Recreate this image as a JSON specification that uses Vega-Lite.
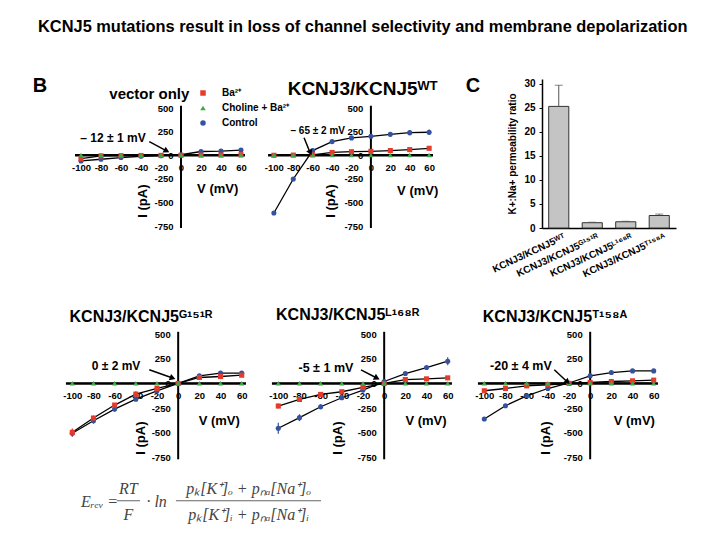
{
"$schema":"https://vega.github.io/schema/vega-lite/v6.json",
"background":"white",
"padding":{"left":32,"top":18,"right":5,"bottom":5},
"title":{"text":"KCNJ5 mutations result in loss of channel selectivity and membrane depolarization","font":"Liberation Sans","fontSize":16.4,"fontWeight":"bold","color":"black","anchor":"start","frame":"group","dx":-29,"offset":41},
"config":{"view":{"stroke":null},"axis":{"domain":false,"ticks":false,"grid":false,"labelFont":"Liberation Sans","labelFontWeight":"bold","labelFontSize":9.5,"labelColor":"black","labelPadding":7,"labelOverlap":false,"labelFlush":false}},
"resolve":{"scale":{"color":"independent","shape":"independent"}},
"columns":3,
"align":"none",
"bounds":"flush",
"spacing":{"row":103.3,"column":26},
"datasets":{
"iv":[
{"p":"vec","s":"Control","V":-100,"I":-60,"e":0},{"p":"vec","s":"Control","V":-80,"I":-42,"e":0},{"p":"vec","s":"Control","V":-60,"I":-24,"e":0},{"p":"vec","s":"Control","V":-40,"I":-10,"e":0},{"p":"vec","s":"Control","V":-20,"I":-4,"e":0},{"p":"vec","s":"Control","V":0,"I":6,"e":0},{"p":"vec","s":"Control","V":20,"I":40,"e":0},{"p":"vec","s":"Control","V":40,"I":44,"e":0},{"p":"vec","s":"Control","V":60,"I":55,"e":0},
{"p":"vec","s":"Ba²⁺","V":-100,"I":-35,"e":0},{"p":"vec","s":"Ba²⁺","V":-80,"I":-6,"e":0},{"p":"vec","s":"Ba²⁺","V":-60,"I":-4,"e":0},{"p":"vec","s":"Ba²⁺","V":-40,"I":-2,"e":0},{"p":"vec","s":"Ba²⁺","V":-20,"I":-1,"e":0},{"p":"vec","s":"Ba²⁺","V":0,"I":0,"e":0},{"p":"vec","s":"Ba²⁺","V":20,"I":2,"e":0},{"p":"vec","s":"Ba²⁺","V":40,"I":4,"e":0},{"p":"vec","s":"Ba²⁺","V":60,"I":6,"e":0},
{"p":"vec","s":"Choline + Ba²⁺","V":-100,"I":4,"e":0},{"p":"vec","s":"Choline + Ba²⁺","V":-80,"I":4,"e":0},{"p":"vec","s":"Choline + Ba²⁺","V":-60,"I":3,"e":0},{"p":"vec","s":"Choline + Ba²⁺","V":-40,"I":3,"e":0},{"p":"vec","s":"Choline + Ba²⁺","V":-20,"I":2,"e":0},{"p":"vec","s":"Choline + Ba²⁺","V":0,"I":2,"e":0},{"p":"vec","s":"Choline + Ba²⁺","V":20,"I":2,"e":0},{"p":"vec","s":"Choline + Ba²⁺","V":40,"I":1,"e":0},{"p":"vec","s":"Choline + Ba²⁺","V":60,"I":1,"e":0},
{"p":"wt","s":"Control","V":-100,"I":-611,"e":0},{"p":"wt","s":"Control","V":-80,"I":-251,"e":0},{"p":"wt","s":"Control","V":-60,"I":50,"e":0},{"p":"wt","s":"Control","V":-40,"I":145,"e":12},{"p":"wt","s":"Control","V":-20,"I":184,"e":15},{"p":"wt","s":"Control","V":0,"I":201,"e":15},{"p":"wt","s":"Control","V":20,"I":222,"e":22},{"p":"wt","s":"Control","V":40,"I":240,"e":28},{"p":"wt","s":"Control","V":60,"I":244,"e":30},
{"p":"wt","s":"Ba²⁺","V":-100,"I":0,"e":0},{"p":"wt","s":"Ba²⁺","V":-80,"I":2,"e":0},{"p":"wt","s":"Ba²⁺","V":-60,"I":5,"e":0},{"p":"wt","s":"Ba²⁺","V":-40,"I":30,"e":8},{"p":"wt","s":"Ba²⁺","V":-20,"I":38,"e":8},{"p":"wt","s":"Ba²⁺","V":0,"I":42,"e":8},{"p":"wt","s":"Ba²⁺","V":20,"I":50,"e":8},{"p":"wt","s":"Ba²⁺","V":40,"I":60,"e":10},{"p":"wt","s":"Ba²⁺","V":60,"I":74,"e":12},
{"p":"wt","s":"Choline + Ba²⁺","V":-100,"I":3,"e":0},{"p":"wt","s":"Choline + Ba²⁺","V":-80,"I":3,"e":0},{"p":"wt","s":"Choline + Ba²⁺","V":-60,"I":3,"e":0},{"p":"wt","s":"Choline + Ba²⁺","V":-40,"I":3,"e":0},{"p":"wt","s":"Choline + Ba²⁺","V":-20,"I":3,"e":0},{"p":"wt","s":"Choline + Ba²⁺","V":0,"I":3,"e":0},{"p":"wt","s":"Choline + Ba²⁺","V":20,"I":3,"e":0},{"p":"wt","s":"Choline + Ba²⁺","V":40,"I":3,"e":0},{"p":"wt","s":"Choline + Ba²⁺","V":60,"I":3,"e":0},
{"p":"g151r","s":"Control","V":-100,"I":-506,"e":35},{"p":"g151r","s":"Control","V":-80,"I":-378,"e":30},{"p":"g151r","s":"Control","V":-60,"I":-260,"e":25},{"p":"g151r","s":"Control","V":-40,"I":-159,"e":20},{"p":"g151r","s":"Control","V":-20,"I":-74,"e":10},{"p":"g151r","s":"Control","V":0,"I":0,"e":0},{"p":"g151r","s":"Control","V":20,"I":78,"e":8},{"p":"g151r","s":"Control","V":40,"I":105,"e":10},{"p":"g151r","s":"Control","V":60,"I":105,"e":10},
{"p":"g151r","s":"Ba²⁺","V":-100,"I":-496,"e":40},{"p":"g151r","s":"Ba²⁺","V":-80,"I":-351,"e":25},{"p":"g151r","s":"Ba²⁺","V":-60,"I":-219,"e":20},{"p":"g151r","s":"Ba²⁺","V":-40,"I":-108,"e":30},{"p":"g151r","s":"Ba²⁺","V":-20,"I":-50,"e":10},{"p":"g151r","s":"Ba²⁺","V":0,"I":0,"e":0},{"p":"g151r","s":"Ba²⁺","V":20,"I":61,"e":8},{"p":"g151r","s":"Ba²⁺","V":40,"I":71,"e":10},{"p":"g151r","s":"Ba²⁺","V":60,"I":84,"e":12},
{"p":"g151r","s":"Choline + Ba²⁺","V":-100,"I":2,"e":0},{"p":"g151r","s":"Choline + Ba²⁺","V":-80,"I":2,"e":0},{"p":"g151r","s":"Choline + Ba²⁺","V":-60,"I":2,"e":0},{"p":"g151r","s":"Choline + Ba²⁺","V":-40,"I":2,"e":0},{"p":"g151r","s":"Choline + Ba²⁺","V":-20,"I":2,"e":0},{"p":"g151r","s":"Choline + Ba²⁺","V":0,"I":2,"e":0},{"p":"g151r","s":"Choline + Ba²⁺","V":20,"I":2,"e":0},{"p":"g151r","s":"Choline + Ba²⁺","V":40,"I":2,"e":0},{"p":"g151r","s":"Choline + Ba²⁺","V":60,"I":2,"e":0},
{"p":"l168r","s":"Control","V":-100,"I":-455,"e":55},{"p":"l168r","s":"Control","V":-80,"I":-347,"e":35},{"p":"l168r","s":"Control","V":-60,"I":-236,"e":25},{"p":"l168r","s":"Control","V":-40,"I":-145,"e":15},{"p":"l168r","s":"Control","V":-20,"I":-67,"e":10},{"p":"l168r","s":"Control","V":0,"I":20,"e":5},{"p":"l168r","s":"Control","V":20,"I":101,"e":12},{"p":"l168r","s":"Control","V":40,"I":162,"e":15},{"p":"l168r","s":"Control","V":60,"I":226,"e":40},
{"p":"l168r","s":"Ba²⁺","V":-100,"I":-229,"e":25},{"p":"l168r","s":"Ba²⁺","V":-80,"I":-162,"e":18},{"p":"l168r","s":"Ba²⁺","V":-60,"I":-111,"e":12},{"p":"l168r","s":"Ba²⁺","V":-40,"I":-84,"e":10},{"p":"l168r","s":"Ba²⁺","V":-20,"I":-40,"e":8},{"p":"l168r","s":"Ba²⁺","V":0,"I":0,"e":0},{"p":"l168r","s":"Ba²⁺","V":20,"I":40,"e":8},{"p":"l168r","s":"Ba²⁺","V":40,"I":47,"e":8},{"p":"l168r","s":"Ba²⁺","V":60,"I":57,"e":10},
{"p":"l168r","s":"Choline + Ba²⁺","V":-100,"I":2,"e":0},{"p":"l168r","s":"Choline + Ba²⁺","V":-80,"I":2,"e":0},{"p":"l168r","s":"Choline + Ba²⁺","V":-60,"I":2,"e":0},{"p":"l168r","s":"Choline + Ba²⁺","V":-40,"I":2,"e":0},{"p":"l168r","s":"Choline + Ba²⁺","V":-20,"I":2,"e":0},{"p":"l168r","s":"Choline + Ba²⁺","V":0,"I":2,"e":0},{"p":"l168r","s":"Choline + Ba²⁺","V":20,"I":2,"e":0},{"p":"l168r","s":"Choline + Ba²⁺","V":40,"I":2,"e":0},{"p":"l168r","s":"Choline + Ba²⁺","V":60,"I":2,"e":0},
{"p":"t158a","s":"Control","V":-100,"I":-361,"e":0},{"p":"t158a","s":"Control","V":-80,"I":-226,"e":0},{"p":"t158a","s":"Control","V":-60,"I":-125,"e":0},{"p":"t158a","s":"Control","V":-40,"I":-51,"e":0},{"p":"t158a","s":"Control","V":-20,"I":5,"e":0},{"p":"t158a","s":"Control","V":0,"I":78,"e":0},{"p":"t158a","s":"Control","V":20,"I":111,"e":0},{"p":"t158a","s":"Control","V":40,"I":128,"e":0},{"p":"t158a","s":"Control","V":60,"I":128,"e":0},
{"p":"t158a","s":"Ba²⁺","V":-100,"I":-74,"e":0},{"p":"t158a","s":"Ba²⁺","V":-80,"I":-51,"e":0},{"p":"t158a","s":"Ba²⁺","V":-60,"I":-24,"e":0},{"p":"t158a","s":"Ba²⁺","V":-40,"I":-13,"e":0},{"p":"t158a","s":"Ba²⁺","V":-20,"I":0,"e":0},{"p":"t158a","s":"Ba²⁺","V":0,"I":10,"e":0},{"p":"t158a","s":"Ba²⁺","V":20,"I":20,"e":0},{"p":"t158a","s":"Ba²⁺","V":40,"I":27,"e":0},{"p":"t158a","s":"Ba²⁺","V":60,"I":34,"e":0},
{"p":"t158a","s":"Choline + Ba²⁺","V":-100,"I":3,"e":0},{"p":"t158a","s":"Choline + Ba²⁺","V":-80,"I":3,"e":0},{"p":"t158a","s":"Choline + Ba²⁺","V":-60,"I":3,"e":0},{"p":"t158a","s":"Choline + Ba²⁺","V":-40,"I":3,"e":0},{"p":"t158a","s":"Choline + Ba²⁺","V":-20,"I":3,"e":0},{"p":"t158a","s":"Choline + Ba²⁺","V":0,"I":3,"e":0},{"p":"t158a","s":"Choline + Ba²⁺","V":20,"I":3,"e":0},{"p":"t158a","s":"Choline + Ba²⁺","V":40,"I":3,"e":0},{"p":"t158a","s":"Choline + Ba²⁺","V":60,"I":3,"e":0}
],
"perm":[
{"c":"KCNJ3/KCNJ5ᵂᵀ","r":25.3,"hi":29.7},
{"c":"KCNJ3/KCNJ5ᴳ¹⁵¹ᴿ","r":1.1,"hi":1.2},
{"c":"KCNJ3/KCNJ5ᴸ¹⁶⁸ᴿ","r":1.3,"hi":1.4},
{"c":"KCNJ3/KCNJ5ᵀ¹⁵⁸ᴬ","r":2.6,"hi":2.9}
]
},
"concat":[
{"width":180,"height":149,
"layer":[
{"data":{"values":[{}]},"mark":{"type":"rule","color":"black","strokeWidth":2.5},"encoding":{"x":{"datum":-106},"x2":{"datum":64},"y":{"datum":0}}},
{"data":{"values":[{}]},"mark":{"type":"rule","color":"black","strokeWidth":2},"encoding":{"x":{"datum":0},"y":{"datum":-770},"y2":{"datum":525}}},
{"data":{"name":"iv"},"transform":[{"filter":"datum.p==='vec'"}],
"encoding":{"x":{"field":"V","type":"quantitative","scale":{"domain":[-114,66],"nice":false,"zero":false},"axis":{"title":null,"values":[-100,-80,-60,-40,-20,0,20,40,60],"tickCount":30,"offset":-72.7,"labelOverlap":false,"labelExpr":"'' + datum.value"}},
"y":{"field":"I","type":"quantitative","scale":{"domain":[-770,808],"nice":false,"zero":false},"axis":{"title":null,"values":[-750,-500,-250,0,250,500],"tickCount":30,"offset":-114,"labelPadding":8,"labelOverlap":false,"labelExpr":"'' + datum.value"}}},
"layer":[
{"mark":{"type":"line","color":"black","strokeWidth":1.3},"encoding":{"detail":{"field":"s"}}},
{"mark":{"type":"point","filled":true,"size":26,"opacity":1},"encoding":{
"color":{"field":"s","type":"nominal","scale":{"domain":["Ba²⁺","Choline + Ba²⁺","Control"],"range":["#e53b2c","#3daa48","#35529e"]},"legend":{"orient":"none","legendX":131,"legendY":9,"title":null,"labelFont":"Liberation Sans","labelFontWeight":"bold","labelFontSize":10,"labelColor":"black","labelOffset":14,"symbolSize":30,"rowPadding":5}},
"shape":{"field":"s","type":"nominal","scale":{"domain":["Ba²⁺","Choline + Ba²⁺","Control"],"range":["square","triangle-up","circle"]},"legend":{"orient":"none","legendX":131,"legendY":9,"title":null,"labelFont":"Liberation Sans","labelFontWeight":"bold","labelFontSize":10,"labelColor":"black","labelOffset":14,"symbolSize":30,"rowPadding":5}}}}
]},
{"data":{"values":[{}]},"mark":{"type":"text","font":"Liberation Sans","fontWeight":"bold","fontSize":15,"color":"black"},"encoding":{"x":{"datum":-31.7},"y":{"datum":652},"text":{"value":"vector only"}}},
{"data":{"values":[{}]},"mark":{"type":"text","font":"Liberation Sans","fontWeight":"bold","fontSize":20,"color":"black"},"encoding":{"x":{"datum":-141},"y":{"datum":734},"text":{"value":"B"}}},
{"data":{"values":[{}]},"mark":{"type":"text","font":"Liberation Sans","fontWeight":"bold","fontSize":12,"color":"black"},"encoding":{"x":{"datum":-68},"y":{"datum":186},"text":{"value":"– 12 ± 1 mV"}}},
{"data":{"values":[{}]},"mark":{"type":"rule","color":"black","strokeWidth":1.5},"encoding":{"x":{"datum":-31.7},"y":{"datum":144},"x2":{"datum":-15},"y2":{"datum":50}}},
{"data":{"values":[{}]},"mark":{"type":"point","shape":"triangle-right","angle":28,"filled":true,"color":"black","size":45,"opacity":1},"encoding":{"x":{"datum":-14.3},"y":{"datum":46}}},
{"data":{"values":[{}]},"mark":{"type":"text","font":"Liberation Sans","fontWeight":"bold","fontSize":13,"color":"black"},"encoding":{"x":{"datum":36.7},"y":{"datum":-360},"text":{"value":"V (mV)"}}},
{"data":{"values":[{}]},"mark":{"type":"text","font":"Liberation Sans","fontWeight":"bold","fontSize":13,"color":"black","angle":270},"encoding":{"x":{"datum":-38.3},"y":{"datum":-485},"text":{"value":"I (pA)"}}}
]},
{"width":180,"height":149,
"layer":[
{"data":{"values":[{}]},"mark":{"type":"rule","color":"black","strokeWidth":2.5},"encoding":{"x":{"datum":-106},"x2":{"datum":64},"y":{"datum":0}}},
{"data":{"values":[{}]},"mark":{"type":"rule","color":"black","strokeWidth":2},"encoding":{"x":{"datum":0},"y":{"datum":-770},"y2":{"datum":525}}},
{"data":{"name":"iv"},"transform":[{"filter":"datum.p==='wt'"}],
"encoding":{"x":{"field":"V","type":"quantitative","scale":{"domain":[-100.9,84.6],"nice":false,"zero":false},"axis":{"title":null,"values":[-100,-80,-60,-40,-20,0,20,40,60],"tickCount":30,"offset":-72.7,"labelOverlap":false,"labelExpr":"'' + datum.value"}},
"y":{"field":"I","type":"quantitative","scale":{"domain":[-770,808],"nice":false,"zero":false},"axis":{"title":null,"values":[-750,-500,-250,0,250,500],"tickCount":30,"offset":-97.9,"labelPadding":8,"labelOverlap":false,"labelExpr":"'' + datum.value"}}},
"layer":[
{"mark":{"type":"line","color":"black","strokeWidth":1.3},"encoding":{"detail":{"field":"s"}}},
{"transform":[{"filter":"datum.e>0"}],"mark":{"type":"errorbar","thickness":1.2},"encoding":{"yError":{"field":"e"},"color":{"field":"s","type":"nominal","scale":{"domain":["Ba²⁺","Choline + Ba²⁺","Control"],"range":["#e53b2c","#3daa48","#35529e"]},"legend":null}}},
{"mark":{"type":"point","filled":true,"size":26,"opacity":1},"encoding":{
"color":{"field":"s","type":"nominal","scale":{"domain":["Ba²⁺","Choline + Ba²⁺","Control"],"range":["#e53b2c","#3daa48","#35529e"]},"legend":null},
"shape":{"field":"s","type":"nominal","scale":{"domain":["Ba²⁺","Choline + Ba²⁺","Control"],"range":["square","triangle-up","circle"]},"legend":null}}}
]},
{"data":{"values":[{}]},"mark":{"type":"text","font":"Liberation Sans","fontWeight":"bold","fontSize":19,"color":"black"},"encoding":{"x":{"datum":-8.4},"y":{"datum":699},"text":{"value":"KCNJ3/KCNJ5ᵂᵀ"}}},
{"data":{"values":[{}]},"mark":{"type":"text","font":"Liberation Sans","fontWeight":"bold","fontSize":20,"color":"black"},"encoding":{"x":{"datum":105.2},"y":{"datum":734},"text":{"value":"C"}}},
{"data":{"values":[{}]},"mark":{"type":"text","font":"Liberation Sans","fontWeight":"bold","fontSize":10,"color":"black"},"encoding":{"x":{"datum":-54.8},"y":{"datum":257},"text":{"value":"– 65 ± 2 mV"}}},
{"data":{"values":[{}]},"mark":{"type":"rule","color":"black","strokeWidth":1.5},"encoding":{"x":{"datum":-68.9},"y":{"datum":186},"x2":{"datum":-62.9},"y2":{"datum":35}}},
{"data":{"values":[{}]},"mark":{"type":"point","shape":"triangle-right","angle":67,"filled":true,"color":"black","size":45,"opacity":1},"encoding":{"x":{"datum":-62.4},"y":{"datum":28}}},
{"data":{"values":[{}]},"mark":{"type":"text","font":"Liberation Sans","fontWeight":"bold","fontSize":13,"color":"black"},"encoding":{"x":{"datum":48.2},"y":{"datum":-378},"text":{"value":"V (mV)"}}},
{"data":{"values":[{}]},"mark":{"type":"text","font":"Liberation Sans","fontWeight":"bold","fontSize":13,"color":"black","angle":270},"encoding":{"x":{"datum":-41},"y":{"datum":-485},"text":{"value":"I (pA)"}}}
]},
{"width":197,"height":149,"data":{"name":"perm"},
"encoding":{"x":{"field":"c","type":"nominal","sort":null,"scale":{"range":[63,197],"paddingInner":0.4,"paddingOuter":0.2},"axis":{"title":null,"labelAngle":-25,"labelAlign":"right","labelBaseline":"middle","labelFontSize":10,"labelPadding":8,"labelOffset":6,"domain":true,"domainColor":"black","domainWidth":1.5}}},
"layer":[
{"mark":{"type":"bar","fill":"#c4c4c4","stroke":"#333333","strokeWidth":1},"encoding":{"y":{"field":"r","type":"quantitative","scale":{"domain":[0,31],"nice":false},"axis":{"title":"K+:Na+ permeability ratio","titleFont":"Liberation Sans","titleFontWeight":"bold","titleFontSize":10,"titleColor":"black","titlePadding":6,"values":[0,5,10,15,20,25,30],"tickCount":30,"labelFontSize":10,"labelPadding":4,"offset":-63,"labelOverlap":false,"domain":true,"domainColor":"black","domainWidth":1.5,"ticks":true,"tickColor":"black","tickSize":3}}}},
{"mark":{"type":"rule","color":"#555555","strokeWidth":1},"encoding":{"y":{"field":"r","type":"quantitative"},"y2":{"field":"hi"}}},
{"mark":{"type":"tick","color":"#555555","size":8,"thickness":1},"encoding":{"y":{"field":"hi","type":"quantitative"}}}
]},
{"width":180,"height":128,
"layer":[
{"data":{"values":[{}]},"mark":{"type":"rule","color":"black","strokeWidth":2.5},"encoding":{"x":{"datum":-106},"x2":{"datum":64},"y":{"datum":0}}},
{"data":{"values":[{}]},"mark":{"type":"rule","color":"black","strokeWidth":2},"encoding":{"x":{"datum":0},"y":{"datum":-770},"y2":{"datum":525}}},
{"data":{"name":"iv"},"transform":[{"filter":"datum.p==='g151r'"}],
"encoding":{"x":{"field":"V","type":"quantitative","scale":{"domain":[-105,65],"nice":false,"zero":false},"axis":{"title":null,"values":[-100,-80,-60,-40,-20,0,20,40,60],"tickCount":30,"offset":-75.8,"labelOverlap":false,"labelExpr":"'' + datum.value"}},
"y":{"field":"I","type":"quantitative","scale":{"domain":[-770,530],"nice":false,"zero":false},"axis":{"title":null,"values":[-750,-500,-250,0,250,500],"tickCount":30,"offset":-111.2,"labelPadding":8,"labelOverlap":false,"labelExpr":"'' + datum.value"}}},
"layer":[
{"mark":{"type":"line","color":"black","strokeWidth":1.3},"encoding":{"detail":{"field":"s"}}},
{"transform":[{"filter":"datum.e>0"}],"mark":{"type":"errorbar","thickness":1.2},"encoding":{"yError":{"field":"e"},"color":{"field":"s","type":"nominal","scale":{"domain":["Ba²⁺","Choline + Ba²⁺","Control"],"range":["#e53b2c","#3daa48","#35529e"]},"legend":null}}},
{"mark":{"type":"point","filled":true,"size":26,"opacity":1},"encoding":{
"color":{"field":"s","type":"nominal","scale":{"domain":["Ba²⁺","Choline + Ba²⁺","Control"],"range":["#e53b2c","#3daa48","#35529e"]},"legend":null},
"shape":{"field":"s","type":"nominal","scale":{"domain":["Ba²⁺","Choline + Ba²⁺","Control"],"range":["square","triangle-up","circle"]},"legend":null}}}
]},
{"data":{"values":[{}]},"mark":{"type":"text","font":"Liberation Sans","fontWeight":"bold","fontSize":16,"color":"black"},"encoding":{"x":{"datum":-35.1},"y":{"datum":680},"text":{"value":"KCNJ3/KCNJ5ᴳ¹⁵¹ᴿ"}}},
{"data":{"values":[{}]},"mark":{"type":"text","font":"Liberation Sans","fontWeight":"bold","fontSize":12,"color":"black"},"encoding":{"x":{"datum":-58.7},"y":{"datum":173},"text":{"value":"0 ± 2 mV"}}},
{"data":{"values":[{}]},"mark":{"type":"rule","color":"black","strokeWidth":1.5},"encoding":{"x":{"datum":-27.3},"y":{"datum":139},"x2":{"datum":-6},"y2":{"datum":58}}},
{"data":{"values":[{}]},"mark":{"type":"point","shape":"triangle-right","angle":19.5,"filled":true,"color":"black","size":45,"opacity":1},"encoding":{"x":{"datum":-5.2},"y":{"datum":55}}},
{"data":{"values":[{}]},"mark":{"type":"text","font":"Liberation Sans","fontWeight":"bold","fontSize":13,"color":"black"},"encoding":{"x":{"datum":38.8},"y":{"datum":-386},"text":{"value":"V (mV)"}}},
{"data":{"values":[{}]},"mark":{"type":"text","font":"Liberation Sans","fontWeight":"bold","fontSize":13,"color":"black","angle":270},"encoding":{"x":{"datum":-35.1},"y":{"datum":-555},"text":{"value":"I (pA)"}}},
{"data":{"values":[{}]},"mark":{"type":"text","font":"Liberation Serif","fontStyle":"italic","fontSize":16,"color":"#444444","align":"left"},"encoding":{"x":{"datum":-91.8},"y":{"datum":-1201},"text":{"value":"Eᵣₑᵥ ="}}},
{"data":{"values":[{}]},"mark":{"type":"text","font":"Liberation Serif","fontStyle":"italic","fontSize":16,"color":"#444444"},"encoding":{"x":{"datum":-47},"y":{"datum":-1069},"text":{"value":"RT"}}},
{"data":{"values":[{}]},"mark":{"type":"rule","color":"#666666","strokeWidth":1},"encoding":{"x":{"datum":-58},"x2":{"datum":-36},"y":{"datum":-1191}}},
{"data":{"values":[{}]},"mark":{"type":"text","font":"Liberation Serif","fontStyle":"italic","fontSize":16,"color":"#444444"},"encoding":{"x":{"datum":-47},"y":{"datum":-1334},"text":{"value":"F"}}},
{"data":{"values":[{}]},"mark":{"type":"text","font":"Liberation Serif","fontStyle":"italic","fontSize":16,"color":"#444444","align":"left"},"encoding":{"x":{"datum":-30},"y":{"datum":-1201},"text":{"value":"· ln"}}},
{"data":{"values":[{}]},"mark":{"type":"text","font":"Liberation Serif","fontStyle":"italic","fontSize":16,"color":"#444444"},"encoding":{"x":{"datum":66.5},"y":{"datum":-1069},"text":{"value":"pₖ[K⁺]ₒ + pₙₐ[Na⁺]ₒ"}}},
{"data":{"values":[{}]},"mark":{"type":"rule","color":"#666666","strokeWidth":1},"encoding":{"x":{"datum":-2.1},"x2":{"datum":134.9},"y":{"datum":-1191}}},
{"data":{"values":[{}]},"mark":{"type":"text","font":"Liberation Serif","fontStyle":"italic","fontSize":16,"color":"#444444"},"encoding":{"x":{"datum":66.5},"y":{"datum":-1334},"text":{"value":"pₖ[K⁺]ᵢ + pₙₐ[Na⁺]ᵢ"}}}
]},
{"width":180,"height":128,
"layer":[
{"data":{"values":[{}]},"mark":{"type":"rule","color":"black","strokeWidth":2.5},"encoding":{"x":{"datum":-106},"x2":{"datum":64},"y":{"datum":0}}},
{"data":{"values":[{}]},"mark":{"type":"rule","color":"black","strokeWidth":2},"encoding":{"x":{"datum":0},"y":{"datum":-770},"y2":{"datum":525}}},
{"data":{"name":"iv"},"transform":[{"filter":"datum.p==='l168r'"}],
"encoding":{"x":{"field":"V","type":"quantitative","scale":{"domain":[-105,65],"nice":false,"zero":false},"axis":{"title":null,"values":[-100,-80,-60,-40,-20,0,20,40,60],"tickCount":30,"offset":-75.8,"labelOverlap":false,"labelExpr":"'' + datum.value"}},
"y":{"field":"I","type":"quantitative","scale":{"domain":[-770,530],"nice":false,"zero":false},"axis":{"title":null,"values":[-750,-500,-250,0,250,500],"tickCount":30,"offset":-111.2,"labelPadding":8,"labelOverlap":false,"labelExpr":"'' + datum.value"}}},
"layer":[
{"mark":{"type":"line","color":"black","strokeWidth":1.3},"encoding":{"detail":{"field":"s"}}},
{"transform":[{"filter":"datum.e>0"}],"mark":{"type":"errorbar","thickness":1.2},"encoding":{"yError":{"field":"e"},"color":{"field":"s","type":"nominal","scale":{"domain":["Ba²⁺","Choline + Ba²⁺","Control"],"range":["#e53b2c","#3daa48","#35529e"]},"legend":null}}},
{"mark":{"type":"point","filled":true,"size":26,"opacity":1},"encoding":{
"color":{"field":"s","type":"nominal","scale":{"domain":["Ba²⁺","Choline + Ba²⁺","Control"],"range":["#e53b2c","#3daa48","#35529e"]},"legend":null},
"shape":{"field":"s","type":"nominal","scale":{"domain":["Ba²⁺","Choline + Ba²⁺","Control"],"range":["square","triangle-up","circle"]},"legend":null}}}
]},
{"data":{"values":[{}]},"mark":{"type":"text","font":"Liberation Sans","fontWeight":"bold","fontSize":16,"color":"black"},"encoding":{"x":{"datum":-34.5},"y":{"datum":691},"text":{"value":"KCNJ3/KCNJ5ᴸ¹⁶⁸ᴿ"}}},
{"data":{"values":[{}]},"mark":{"type":"text","font":"Liberation Sans","fontWeight":"bold","fontSize":12.5,"color":"black"},"encoding":{"x":{"datum":-55},"y":{"datum":162},"text":{"value":"-5 ± 1 mV"}}},
{"data":{"values":[{}]},"mark":{"type":"rule","color":"black","strokeWidth":1.5},"encoding":{"x":{"datum":-21.9},"y":{"datum":139},"x2":{"datum":-7.5},"y2":{"datum":58}}},
{"data":{"values":[{}]},"mark":{"type":"point","shape":"triangle-right","angle":27,"filled":true,"color":"black","size":45,"opacity":1},"encoding":{"x":{"datum":-6.8},"y":{"datum":55}}},
{"data":{"values":[{}]},"mark":{"type":"text","font":"Liberation Sans","fontWeight":"bold","fontSize":13,"color":"black"},"encoding":{"x":{"datum":39.5},"y":{"datum":-386},"text":{"value":"V (mV)"}}},
{"data":{"values":[{}]},"mark":{"type":"text","font":"Liberation Sans","fontWeight":"bold","fontSize":13,"color":"black","angle":270},"encoding":{"x":{"datum":-43.3},"y":{"datum":-555},"text":{"value":"I (pA)"}}}
]},
{"width":180,"height":128,
"layer":[
{"data":{"values":[{}]},"mark":{"type":"rule","color":"black","strokeWidth":2.5},"encoding":{"x":{"datum":-106},"x2":{"datum":64},"y":{"datum":0}}},
{"data":{"values":[{}]},"mark":{"type":"rule","color":"black","strokeWidth":2},"encoding":{"x":{"datum":0},"y":{"datum":-770},"y2":{"datum":525}}},
{"data":{"name":"iv"},"transform":[{"filter":"datum.p==='t158a'"}],
"encoding":{"x":{"field":"V","type":"quantitative","scale":{"domain":[-105,65],"nice":false,"zero":false},"axis":{"title":null,"values":[-100,-80,-60,-40,-20,0,20,40,60],"tickCount":30,"offset":-75.8,"labelOverlap":false,"labelExpr":"'' + datum.value"}},
"y":{"field":"I","type":"quantitative","scale":{"domain":[-770,530],"nice":false,"zero":false},"axis":{"title":null,"values":[-750,-500,-250,0,250,500],"tickCount":30,"offset":-111.2,"labelPadding":8,"labelOverlap":false,"labelExpr":"'' + datum.value"}}},
"layer":[
{"mark":{"type":"line","color":"black","strokeWidth":1.3},"encoding":{"detail":{"field":"s"}}},
{"mark":{"type":"point","filled":true,"size":26,"opacity":1},"encoding":{
"color":{"field":"s","type":"nominal","scale":{"domain":["Ba²⁺","Choline + Ba²⁺","Control"],"range":["#e53b2c","#3daa48","#35529e"]},"legend":null},
"shape":{"field":"s","type":"nominal","scale":{"domain":["Ba²⁺","Choline + Ba²⁺","Control"],"range":["square","triangle-up","circle"]},"legend":null}}}
]},
{"data":{"values":[{}]},"mark":{"type":"text","font":"Liberation Sans","fontWeight":"bold","fontSize":16,"color":"black"},"encoding":{"x":{"datum":-33.2},"y":{"datum":680},"text":{"value":"KCNJ3/KCNJ5ᵀ¹⁵⁸ᴬ"}}},
{"data":{"values":[{}]},"mark":{"type":"text","font":"Liberation Sans","fontWeight":"bold","fontSize":12.5,"color":"black"},"encoding":{"x":{"datum":-65.4},"y":{"datum":173},"text":{"value":"-20 ± 4 mV"}}},
{"data":{"values":[{}]},"mark":{"type":"rule","color":"black","strokeWidth":1.5},"encoding":{"x":{"datum":-33.9},"y":{"datum":139},"x2":{"datum":-22},"y2":{"datum":20}}},
{"data":{"values":[{}]},"mark":{"type":"point","shape":"triangle-right","angle":42.5,"filled":true,"color":"black","size":45,"opacity":1},"encoding":{"x":{"datum":-21.3},"y":{"datum":14}}},
{"data":{"values":[{}]},"mark":{"type":"text","font":"Liberation Sans","fontWeight":"bold","fontSize":13,"color":"black"},"encoding":{"x":{"datum":41.7},"y":{"datum":-379},"text":{"value":"V (mV)"}}},
{"data":{"values":[{}]},"mark":{"type":"text","font":"Liberation Sans","fontWeight":"bold","fontSize":13,"color":"black","angle":270},"encoding":{"x":{"datum":-41.8},"y":{"datum":-555},"text":{"value":"I (pA)"}}}
]}
]
}
